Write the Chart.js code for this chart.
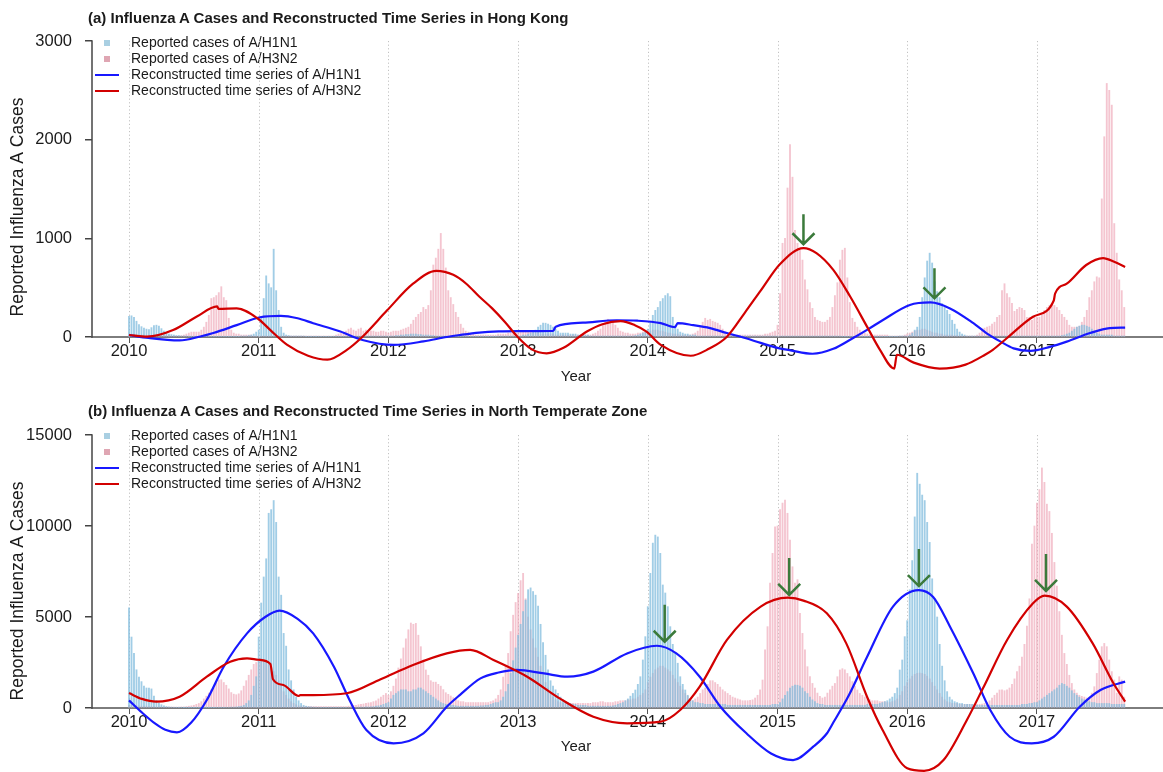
<!DOCTYPE html>
<html><head><meta charset="utf-8">
<script src="https://cdn.jsdelivr.net/npm/chart.js@4.4.1/dist/chart.umd.min.js"></script>
<style>
html,body{margin:0;padding:0;background:#fff;}
body{width:1163px;height:772px;overflow:hidden;position:relative;font-family:"Liberation Sans",Arial,Helvetica,sans-serif;color:#1a1a1a;}
.ttl{position:absolute;left:88px;font-weight:bold;font-size:15px;line-height:18px;white-space:nowrap;z-index:2}
.xl{position:absolute;left:526px;width:100px;text-align:center;font-size:15px;line-height:18px;z-index:2}
.wrap{position:absolute;left:0;}
canvas{display:block}
</style></head><body>
<div class="ttl" style="top:9px">(a) Influenza A Cases and Reconstructed Time Series in Hong Kong</div>
<div class="ttl" style="top:402px">(b) Influenza A Cases and Reconstructed Time Series in North Temperate Zone</div>
<div class="xl" style="top:367px">Year</div>
<div class="xl" style="top:737px">Year</div>
<div class="wrap" style="top:0"><canvas id="ca" width="1163" height="405"></canvas></div>
<div class="wrap" style="top:395px"><canvas id="cb" width="1163" height="400"></canvas></div>
<script>
// ---------- tick labels / categories ----------
const yearTicks = [2010, 2011, 2012, 2013, 2014, 2015, 2016, 2017];
const aYTicks = [0, 1000, 2000, 3000];
const bYTicks = [0, 5000, 10000, 15000];
const seriesLabels = ['Reported cases of A/H1N1', 'Reported cases of A/H3N2',
  'Reconstructed time series of A/H1N1', 'Reconstructed time series of A/H3N2'];
const firstWeekYear = 2010;   // weekly reports, 52 per year

// ---------- (a) Hong Kong: weekly reported cases ----------
const hkH1N1 = [
 210,215,200,160,125,105,90,80,75,95,115,120,110, 85,60,40,30,25,20,15,15,10,10,10,5,5, 5,5,5,5,5,5,5,5,5,5,5,5,5, 5,5,5,5,5,5,10,10,10,15,20,30,50,
 70,200,390,620,540,500,890,470,270,100,40,20,15, 10,10,10,10,10,10,5,5,5,5,5,5,5, 5,5,5,5,5,5,5,5,5,5,5,10,10, 10,10,10,10,10,10,10,10,10,10,10,10,10,
 10,10,10,15,15,20,20,25,25,30,30,30,25, 25,20,20,20,15,15,10,10,10,10,10,5,5, 5,5,5,5,5,5,5,5,5,5,5,5,5, 5,5,5,5,5,10,10,10,10,10,10,10,10,
 10,10,20,20,30,40,50,70,100,120,140,140,130, 120,100,80,60,40,40,40,40,30,30,30,20,20, 20,20,20,10,10,10,10,10,10,10,10,10,10, 10,10,10,10,10,10,10,10,15,20,30,40,50,
 80,150,220,270,300,360,390,420,440,410,200,120,80, 50,40,30,30,20,20,20,10,10,10,10,10,10, 10,10,10,10,10,10,10,10,10,10,10,10,10, 10,10,10,10,10,10,10,10,10,10,10,10,10,
 10,10,10,10,10,10,10,10,10,10,10,10,10, 10,10,10,10,10,10,10,10,10,10,10,10,10, 5,5,5,5,5,5,5,5,5,5,5,5,5, 5,5,5,5,5,5,5,5,5,5,10,10,10,
 10,20,40,70,100,200,400,600,770,850,750,560,460, 400,340,300,270,230,170,130,80,50,30,20,10,10, 10,10,10,10,10,10,10,10,10,10,10,10,10, 10,10,10,10,10,10,10,10,10,10,10,10,10,
 10,10,10,10,10,10,10,10,10,10,15,20,30, 40,60,80,100,110,120,120,110,100,80,60,40,30, 20,20,20,20,20,10,10,10,10,10
];
const hkH3N2 = [
 20,20,20,20,20,20,20,15,15,15,15,15,15, 15,15,15,15,10,10,10,10,15,20,30,40,50, 50,50,50,70,100,150,220,390,400,420,450,510,400, 370,190,70,40,30,30,20,20,20,20,20,10,10,
 10,10,10,10,10,10,10,10,10,10,10,10,10, 10,10,10,10,10,10,10,10,10,10,10,10,10, 10,10,10,10,10,20,30,40,50,60,80,90,70, 60,80,90,60,70,50,60,60,50,50,60,60,50,
 40,50,60,60,60,70,80,90,100,130,170,200,230, 250,300,280,320,470,730,800,890,1050,890,700,470,400, 330,250,200,130,90,60,50,40,30,20,20,20,20, 20,20,20,20,20,30,30,30,30,40,40,40,40,
 40,50,50,60,60,50,40,40,40,30,30,30,30, 30,30,20,20,20,20,20,20,20,20,20,20,20, 20,20,20,20,30,40,60,80,120,160,180,170,150, 120,90,60,50,40,40,30,30,30,40,40,50,50,
 50,60,70,70,70,60,60,50,40,40,30,30,30, 20,20,20,20,20,30,40,60,100,150,190,170,180, 160,150,140,120,80,50,40,30,30,20,20,20,20, 20,20,20,20,20,20,20,20,30,30,40,50,60,
 120,440,950,1000,1510,1950,1620,1080,950,880,780,580,480, 350,290,200,170,160,150,150,170,200,300,420,550,780, 880,900,600,350,190,150,100,70,50,40,30,20,20, 20,20,20,20,20,20,10,10,10,10,10,10,20,
 30,40,50,60,70,70,80,80,70,60,50,40,40, 30,30,20,20,20,20,15,15,10,10,10,10,10, 10,10,20,40,80,90,100,110,130,150,200,220,470, 540,440,400,340,260,280,300,290,270,200,200,170,200,
 200,200,220,270,300,320,340,320,300,270,230,200,170, 120,100,100,100,110,150,200,270,400,470,560,610,600, 1400,2030,2570,2500,2350,1150,850,580,470,300
];
// reconstructed series: [year, value]
const hkFitH1N1 = [[2010.00,20],[2010.15,-10],[2010.39,-35],[2010.55,5],[2010.65,40],[2010.83,120],[2011.01,200],[2011.17,215],[2011.30,190],[2011.42,140],[2011.63,55],[2011.80,-30],[2012.04,-80],[2012.27,-45],[2012.45,0],[2012.55,20],[2012.70,45],[2012.85,57],[2013.00,60],[2013.27,62],[2013.29,105],[2013.50,145],[2013.76,170],[2013.92,165],[2014.10,140],[2014.21,100],[2014.23,140],[2014.35,120],[2014.48,90],[2014.61,40],[2014.75,-10],[2014.87,-60],[2015.00,-110],[2015.10,-135],[2015.27,-170],[2015.43,-120],[2015.57,-20],[2015.70,80],[2015.81,170],[2016.02,325],[2016.18,350],[2016.33,290],[2016.51,140],[2016.61,40],[2016.72,-47],[2016.82,-115],[2016.95,-140],[2017.10,-100],[2017.23,-47],[2017.41,40],[2017.56,90],[2017.68,95]];
const hkFitH3N2 = [[2010.00,20],[2010.14,3],[2010.34,70],[2010.52,205],[2010.68,310],[2010.69,285],[2010.83,290],[2010.99,190],[2011.09,70],[2011.22,-80],[2011.38,-190],[2011.53,-230],[2011.68,-130],[2011.80,3],[2011.99,270],[2012.19,540],[2012.37,670],[2012.50,630],[2012.60,540],[2012.70,410],[2012.80,290],[2012.90,150],[2012.99,10],[2013.10,-120],[2013.22,-165],[2013.35,-110],[2013.53,55],[2013.65,130],[2013.79,160],[2013.90,120],[2013.99,55],[2014.10,-80],[2014.33,-190],[2014.47,-120],[2014.61,3],[2014.75,250],[2014.87,470],[2015.02,740],[2015.20,900],[2015.30,850],[2015.43,680],[2015.56,410],[2015.69,105],[2015.79,-130],[2015.90,-320],[2015.92,-180],[2016.05,-260],[2016.25,-320],[2016.45,-280],[2016.60,-180],[2016.66,-130],[2016.77,-10],[2016.97,205],[2017.13,370],[2017.14,440],[2017.23,540],[2017.38,730],[2017.51,800],[2017.60,760],[2017.68,710]];
const hkArrows = [[2015.20,940],[2016.21,392]];   // [year, value] of arrow tips

// ---------- (b) North Temperate Zone ----------
const ntH1N1 = [
 5500,3900,3000,2100,1700,1450,1200,1100,1100,1050,650,420,280, 180,120,80,60,50,40,30,30,30,20,20,20,20, 20,20,20,20,20,20,20,20,20,30,30,30,30, 40,40,50,50,60,80,100,150,250,400,700,1200,1720,
 3900,5770,7200,8200,10700,10900,11400,10200,7200,6200,4100,3400,2100, 1500,1000,600,400,250,150,100,80,60,50,40,40,30, 30,30,30,30,30,30,30,30,30,30,40,40,40, 40,50,50,50,60,60,70,80,100,120,150,200,250,
 300,500,700,800,900,1000,1000,1000,900,900,1000,1000,1100, 1100,1000,900,800,700,600,500,400,300,250,200,200,150, 150,120,100,100,100,100,100,100,100,100,100,120,120, 150,150,200,250,300,300,400,600,900,1300,1900,2600,3300,
 4000,4600,5300,5930,6500,6600,6400,6200,5600,4600,3600,2900,2100, 1500,1200,1000,800,600,450,350,300,250,200,200,150,150, 150,150,100,100,100,100,100,100,100,100,100,100,120, 150,200,250,300,400,500,650,800,990,1300,1720,2640,3920,
 5570,7400,9060,9500,9400,8500,6760,6320,5570,4470,3500,3000,2460, 1720,1300,990,700,500,400,300,300,250,250,200,200,200, 200,200,200,200,200,200,150,150,150,150,150,150,150, 150,150,150,150,150,150,150,150,150,150,150,200,200,
 200,300,500,700,900,1100,1200,1260,1250,1200,1100,900,800, 600,450,350,250,200,200,150,150,150,150,150,150,150, 150,150,150,150,150,150,150,150,150,150,200,200,200, 200,200,250,300,350,400,500,600,800,1100,2090,2640,3920,
 4800,6500,8100,10500,12900,12300,11700,11400,10200,9100,7100,6000,5000, 3500,2300,1500,900,600,450,350,300,250,250,200,200,200, 200,200,150,150,150,150,150,150,150,150,150,150,150, 150,150,150,150,150,150,150,200,200,200,250,250,300,
 300,400,500,600,700,800,900,1000,1100,1250,1350,1300,1200, 1100,950,800,700,600,500,450,400,350,300,300,250,250, 250,250,250,250,200,200,200,200,200,200
];
const ntH3N2 = [
 150,150,150,120,120,100,100,100,80,80,80,60,60, 60,50,50,50,50,50,50,50,60,60,80,100,120, 150,200,250,350,500,650,820,1000,1100,1370,1540,1550,1400, 1250,1050,850,760,730,780,950,1200,1500,1800,2100,2400,2500,
 2600,2700,2650,2500,2400,2200,2000,1800,1500,1200,900,700,500, 350,250,180,120,100,80,80,80,80,80,80,80,80, 80,80,80,80,80,80,80,80,80,80,100,120,150, 150,180,200,220,250,280,300,350,400,500,600,700,800,
 700,900,1200,1600,2200,2700,3300,3800,4300,4670,4600,4650,4000, 3370,2640,2090,1800,1500,1420,1420,1300,1200,1010,840,750,660, 570,480,400,350,350,300,300,300,300,300,300,300,300, 300,300,350,400,500,700,1000,1700,2300,3000,4200,5100,5800,
 6300,7000,7400,6000,5000,4300,3800,3300,2800,2300,1800,1400,1100, 800,600,450,350,300,250,250,250,250,250,250,250,250, 250,250,250,250,300,300,300,350,350,300,300,300,300, 350,350,400,400,400,450,450,500,500,600,700,800,1000,
 1400,1700,1900,2100,2200,2300,2300,2200,2100,2000,1800,1600,1400, 1200,1000,800,650,500,400,500,600,800,1000,1100,1300,1500, 1500,1400,1300,1150,1000,900,800,700,600,550,500,450,400, 400,400,420,450,550,700,1000,1540,3190,4470,6870,8500,9960,
 10000,10900,11260,11430,10700,9230,7760,6870,7050,5200,4100,3190,2270, 1720,1350,1100,820,640,550,600,820,1000,1200,1350,1720,2090, 2160,2100,1900,1720,1450,1200,990,800,700,600,500,450,400, 400,400,350,350,350,300,300,350,400,500,700,900,1200,
 1400,1600,1750,1850,1900,1920,1900,1850,1750,1600,1400,1200,1000, 800,600,450,350,300,250,250,250,200,200,200,200,200, 170,180,200,200,220,250,300,400,550,700,820,990,1000, 950,1000,1100,1300,1600,2000,2300,2800,3500,4500,6000,9000,10000,
 11260,12000,13190,12400,11200,10800,9600,8000,6700,5300,4000,3000,2400, 1800,1350,1000,820,700,640,600,550,600,820,1170,1900,2640, 3370,3550,3370,2640,2000,1540,820,1720,1540,600
];
const ntFitH1N1 = [[2010.00,420],[2010.10,-250],[2010.20,-850],[2010.28,-1200],[2010.37,-1340],[2010.48,-800],[2010.60,440],[2010.73,2270],[2010.91,4100],[2011.05,5000],[2011.16,5350],[2011.30,4900],[2011.42,4100],[2011.58,2270],[2011.70,440],[2011.83,-1210],[2012.04,-1940],[2012.27,-1390],[2012.45,70],[2012.55,710],[2012.71,1630],[2012.85,1950],[2012.99,2090],[2013.20,1900],[2013.38,1720],[2013.58,2000],[2013.84,3000],[2014.07,3420],[2014.22,3000],[2014.40,1720],[2014.56,70],[2014.76,-1390],[2014.95,-2500],[2015.12,-2860],[2015.28,-2100],[2015.38,-1400],[2015.43,-800],[2015.55,700],[2015.69,2800],[2015.89,5570],[2016.09,6480],[2016.20,6100],[2016.33,4470],[2016.51,1900],[2016.64,-110],[2016.79,-1580],[2016.96,-1940],[2017.13,-1580],[2017.33,70],[2017.49,990],[2017.68,1450]];
const ntFitH3N2 = [[2010.00,820],[2010.10,500],[2010.21,350],[2010.39,620],[2010.60,1720],[2010.78,2540],[2010.91,2730],[2011.00,2650],[2011.09,2420],[2011.11,1580],[2011.19,1260],[2011.31,660],[2011.32,710],[2011.42,710],[2011.68,810],[2011.94,1580],[2012.19,2360],[2012.45,3000],[2012.63,3190],[2012.81,2640],[2013.07,1720],[2013.32,530],[2013.58,-480],[2013.84,-840],[2014.10,-750],[2014.25,-110],[2014.40,1170],[2014.61,3740],[2014.87,5570],[2015.08,6060],[2015.20,5900],[2015.38,5200],[2015.53,3550],[2015.69,620],[2015.81,-1210],[2016.00,-3310],[2016.13,-3450],[2016.28,-2860],[2016.46,-660],[2016.59,1170],[2016.77,3740],[2016.97,5750],[2017.06,6170],[2017.23,5570],[2017.43,3550],[2017.59,1360],[2017.68,350]];
const ntArrows = [[2014.13,3640],[2015.09,6210],[2016.09,6700],[2017.07,6430]];

// ---------- styling ----------
const BAR_BLUE = 'rgba(130,188,222,0.75)';
const BAR_PINK = 'rgba(236,158,176,0.6)';
const LEG_BLUE = '#a9cfe2';
const LEG_PINK = '#dfa6b3';
const LINE_BLUE = '#1818ff';
const LINE_RED = '#d20000';
const X_MIN = 2009.7147, X_MAX = 2017.972;
Chart.defaults.font.family = '"Liberation Sans", Arial, Helvetica, sans-serif';
Chart.defaults.color = '#1a1a1a';

function weekly(arr) { return arr.map((v, i) => ({x: firstWeekYear + i / 52, y: v})); }
function pts(arr) { return arr.map(p => ({x: p[0], y: p[1]})); }

function icon(kind, color) {
  const c = document.createElement('canvas');
  c.width = 30; c.height = 8;
  const g = c.getContext('2d');
  if (kind === 'sq') { g.fillStyle = color; g.fillRect(10, 1, 6, 6); }
  else { g.strokeStyle = color; g.lineWidth = 2; g.beginPath(); g.moveTo(1, 4); g.lineTo(25, 4); g.stroke(); }
  return c;
}
const legendIcons = [icon('sq', LEG_BLUE), icon('sq', LEG_PINK), icon('ln', LINE_BLUE), icon('ln', LINE_RED)];

function deco(cfg) {
  return {
    id: 'deco',
    afterLayout(chart) {
      const lg = chart.legend;
      if (lg) {
        const h = lg.height;
        lg.top = chart.chartArea.top;
        lg.bottom = lg.top + h;
        lg.left = chart.chartArea.left;
      }
    },
    beforeDatasetsDraw(chart) {
      const {ctx, scales: {x, y}} = chart;
      const y0 = y.getPixelForValue(0), yTop = y.getPixelForValue(cfg.top);
      ctx.save();
      ctx.strokeStyle = '#c2c2c2'; ctx.lineWidth = 1; ctx.setLineDash([1.2, 2.4]);
      yearTicks.forEach(v => {
        const px = Math.round(x.getPixelForValue(v)) + 0.5;
        ctx.beginPath(); ctx.moveTo(px, yTop); ctx.lineTo(px, y0); ctx.stroke();
      });
      ctx.restore();
    },
    afterDatasetsDraw(chart) {
      const {ctx, chartArea, scales: {x, y}} = chart;
      const y0 = y.getPixelForValue(0), yTop = y.getPixelForValue(cfg.top);
      ctx.save();
      ctx.strokeStyle = '#444'; ctx.lineWidth = 1.5;
      ctx.beginPath(); ctx.moveTo(chartArea.left, y0 + 0.75); ctx.lineTo(chartArea.left, yTop - 0.75); ctx.stroke();
      ctx.strokeStyle = '#3b7a3b'; ctx.lineWidth = 2.5;
      cfg.arrows.forEach(a => {
        const px = x.getPixelForValue(a[0]), py = y.getPixelForValue(a[1]);
        ctx.beginPath();
        ctx.moveTo(px, py - cfg.shaft); ctx.lineTo(px, py);
        ctx.moveTo(px - 11, py - 11); ctx.lineTo(px, py); ctx.lineTo(px + 11, py - 11);
        ctx.stroke();
      });
      ctx.restore();
    }
  };
}

function makeChart(id, cfg) {
  return new Chart(document.getElementById(id), {
    type: 'bar',
    data: { datasets: [
      {label: seriesLabels[0], data: weekly(cfg.h1), backgroundColor: BAR_BLUE, order: 2, grouped: false, barThickness: 1.2},
      {label: seriesLabels[1], data: weekly(cfg.h3), backgroundColor: BAR_PINK, order: 3, grouped: false, barThickness: 1.2},
      {type: 'line', label: seriesLabels[2], data: pts(cfg.f1), borderColor: LINE_BLUE, borderWidth: 2.2,
       pointRadius: 0, cubicInterpolationMode: 'monotone', clip: false, fill: false, order: 1},
      {type: 'line', label: seriesLabels[3], data: pts(cfg.f3), borderColor: LINE_RED, borderWidth: 2.2,
       pointRadius: 0, cubicInterpolationMode: 'monotone', clip: false, fill: false, order: 0}
    ]},
    plugins: [deco(cfg)],
    options: {
      responsive: false, animation: false, events: [], devicePixelRatio: 1,
      layout: {padding: {top: cfg.padTop, bottom: cfg.padBottom, left: 0, right: 0}},
      scales: {
        x: {
          type: 'linear', min: X_MIN, max: X_MAX, offset: false, position: {y: 0},
          afterBuildTicks: s => { s.ticks = yearTicks.map(v => ({value: v})); },
          afterFit: s => { s.height = 0; },
          ticks: {callback: v => String(v), font: {size: 16.5}, color: '#1a1a1a', padding: 0, maxRotation: 0, autoSkip: false},
          grid: {drawOnChartArea: false, drawTicks: true, tickLength: 5, color: '#555', offset: false},
          border: {display: true, color: '#7d7d7d', width: 2}
        },
        y: {
          type: 'linear', min: cfg.yMin, max: cfg.yMax, position: 'left',
          afterBuildTicks: s => { s.ticks = cfg.yTicks.map(v => ({value: v})); },
          afterFit: s => { s.width = 92; },
          ticks: {callback: v => String(v), font: {size: 16.5}, color: '#1a1a1a', padding: 13},
          grid: {drawOnChartArea: false, drawTicks: true, tickLength: 7, color: '#444', lineWidth: 1.5},
          border: {display: false},
          title: {display: true, text: 'Reported Influenza A Cases', font: {size: 17.5}, color: '#1a1a1a', padding: {top: 7.5, bottom: 0}}
        }
      },
      plugins: {
        tooltip: {enabled: false},
        legend: {
          display: true, position: 'chartArea', align: 'start',
          labels: {
            usePointStyle: true, pointStyleWidth: 30, boxHeight: 14, padding: 2,
            font: {size: 14}, color: '#1a1a1a',
            generateLabels: chart => chart.data.datasets.map((ds, i) => ({
              text: ds.label, datasetIndex: i, pointStyle: legendIcons[i],
              fillStyle: 'rgba(0,0,0,0)', strokeStyle: 'rgba(0,0,0,0)', lineWidth: 0, hidden: false, fontColor: '#1a1a1a'
            }))
          }
        }
      }
    }
  });
}

makeChart('ca', {h1: hkH1N1, h3: hkH3N2, f1: hkFitH1N1, f3: hkFitH3N2, arrows: hkArrows,
  yTicks: aYTicks, top: 3000, yMin: -435.8, yMax: 3070.9, padTop: 34, padBottom: 25, shaft: 30});
makeChart('cb', {h1: ntH1N1, h3: ntH3N2, f1: ntFitH1N1, f3: ntFitH3N2, arrows: ntArrows,
  yTicks: bYTicks, top: 15000, yMin: -2582.4, yMax: 15439.6, padTop: 32, padBottom: 40, shaft: 37});
</script>
</body></html>
